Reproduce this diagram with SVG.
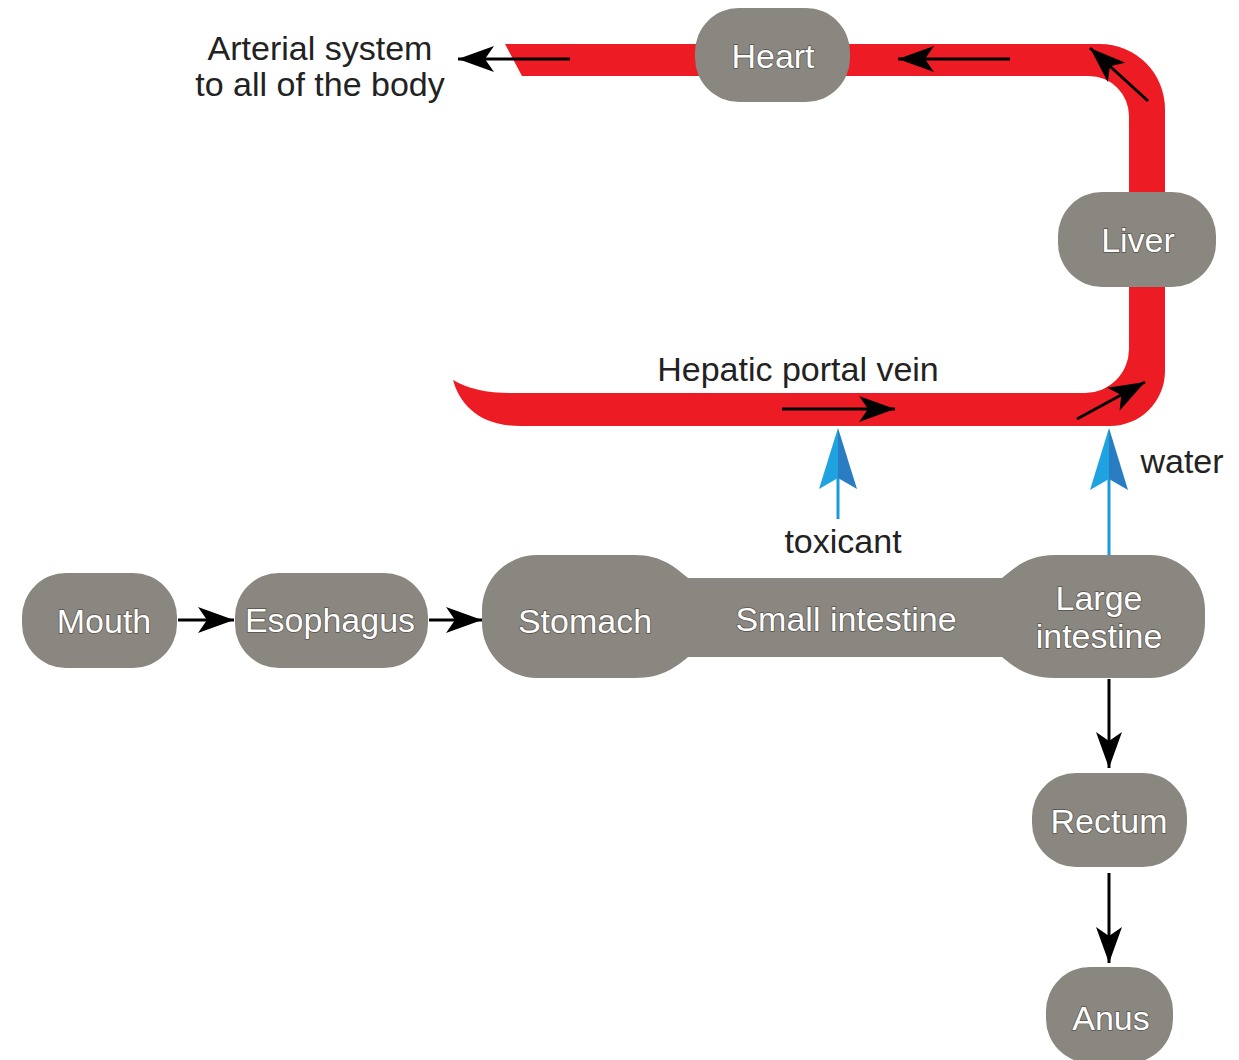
<svg xmlns="http://www.w3.org/2000/svg" width="1239" height="1060" viewBox="0 0 1239 1060">
  <style>
    .node { fill: #8a8680; }
    .lbl { font-family: "Liberation Sans", Arial, sans-serif; font-size: 34px; fill: #ffffff; text-anchor: middle; stroke: #55514b; stroke-width: 1.4px; paint-order: stroke; }
    .cap { font-family: "Liberation Sans", Arial, sans-serif; font-size: 34px; fill: #222222; text-anchor: middle; }
    .flow { stroke: #000000; stroke-width: 3; fill: none; marker-end: url(#head); }
    .vein { fill: #ed1c24; }
    .blueL { fill: #1ea3e0; }
    .blueR { fill: #2a7dc2; }
    .shaft { stroke: #1a9ad8; stroke-width: 3; }
  </style>
  <defs>
    <marker id="head" markerUnits="userSpaceOnUse" markerWidth="42" markerHeight="32" viewBox="-40 -16 42 32" refX="0" refY="0" orient="auto">
      <path d="M0,0 L-36,-13 L-27,0 L-36,13 Z" fill="#000000"/>
    </marker>
  </defs>

  <rect width="1239" height="1060" fill="#ffffff"/>

  <!-- blood vessel: hepatic portal vein up to the heart and out to the arteries -->
  <g id="vessel">
    <path class="vein" d="M505,44 L1100,44 A65,65 0 0 1 1165,109 L1165,371 A55,55 0 0 1 1110,426 L520,426 C480,426 460,405 453,380 Q475,393 510,393 L1085,393 A44,44 0 0 0 1129,349 L1129,116 A40,40 0 0 0 1089,76 L522,76 Z"/>
  </g>

  <!-- connectors -->
  <g id="connectors">
    <line class="flow" x1="570" y1="59" x2="458" y2="59"/>
    <line class="flow" x1="1010" y1="59" x2="898" y2="59"/>
    <line class="flow" x1="1148" y1="101" x2="1090" y2="48"/>
    <line class="flow" x1="782" y1="409" x2="895" y2="409"/>
    <line class="flow" x1="1077" y1="419" x2="1145" y2="382"/>
    <line class="flow" x1="178" y1="620" x2="234" y2="620"/>
    <line class="flow" x1="429" y1="620" x2="482" y2="620"/>
    <line class="flow" x1="1109" y1="679" x2="1109" y2="768"/>
    <line class="flow" x1="1109" y1="873" x2="1109" y2="963"/>
    <!-- absorption into the portal vein -->
    <line class="shaft" x1="838" y1="476" x2="838" y2="519"/>
    <polygon class="blueL" points="838,428 819,489 838,478"/>
    <polygon class="blueR" points="838,428 838,478 857,489"/>
    <line class="shaft" x1="1109" y1="478" x2="1109" y2="556"/>
    <polygon class="blueL" points="1109,428 1090,490 1109,479"/>
    <polygon class="blueR" points="1109,428 1109,479 1128,490"/>
  </g>

  <g id="heart">
    <rect class="node" x="695" y="8" width="155" height="94" rx="44"/>
    <text class="lbl" x="773" y="68">Heart</text>
  </g>
  <g id="liver">
    <rect class="node" x="1058" y="192" width="158" height="95" rx="44"/>
    <text class="lbl" x="1138" y="252">Liver</text>
  </g>
  <g id="mouth">
    <rect class="node" x="22" y="573" width="155" height="95" rx="44"/>
    <text class="lbl" x="104" y="633">Mouth</text>
  </g>
  <g id="esophagus">
    <rect class="node" x="235" y="573" width="193" height="95" rx="44"/>
    <text class="lbl" x="330" y="632">Esophagus</text>
  </g>
  <!-- stomach, small intestine and large intestine as one continuous tube -->
  <g id="gut">
    <path class="node" d="M537,555 L635,555 C662,555 676,568 688,578 L1002,578 C1014,568 1028,555 1055,555 L1150,555 A55,55 0 0 1 1205,610 L1205,623 A55,55 0 0 1 1150,678 L1055,678 C1028,678 1014,667 1002,657 L688,657 C676,667 662,678 635,678 L537,678 A55,55 0 0 1 482,623 L482,610 A55,55 0 0 1 537,555 Z"/>
    <text class="lbl" x="585" y="633">Stomach</text>
    <text class="lbl" x="846" y="631">Small intestine</text>
    <text class="lbl" x="1099" y="610">Large</text>
    <text class="lbl" x="1099" y="648">intestine</text>
  </g>
  <g id="rectum">
    <rect class="node" x="1032" y="773" width="155" height="94" rx="44"/>
    <text class="lbl" x="1109" y="833">Rectum</text>
  </g>
  <g id="anus">
    <rect class="node" x="1046" y="967" width="127" height="96" rx="44"/>
    <text class="lbl" x="1111" y="1030">Anus</text>
  </g>

  <g id="captions">
    <text class="cap" x="320" y="60">Arterial system</text>
    <text class="cap" x="320" y="96">to all of the body</text>
    <text class="cap" x="798" y="381">Hepatic portal vein</text>
    <text class="cap" x="843" y="553" fill="#000000">toxicant</text>
    <text class="cap" x="1182" y="473">water</text>
  </g>
</svg>
